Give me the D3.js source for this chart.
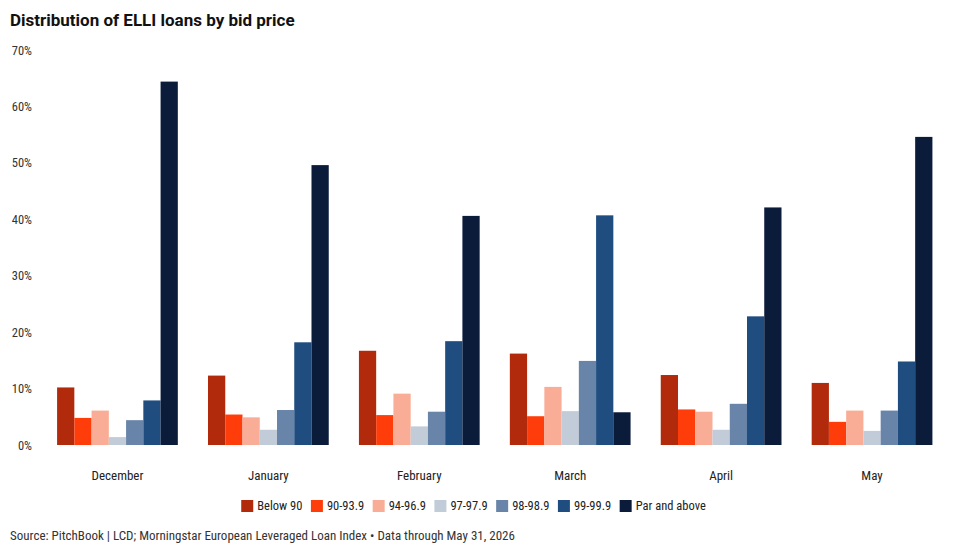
<!DOCTYPE html>
<html>
<head>
<meta charset="utf-8">
<script src="https://cdn.jsdelivr.net/npm/d3@7"></script>
<style>
  html, body { margin: 0; padding: 0; background: #fff; }
  svg { display: block; }
</style>
</head>
<body>
<svg id="chart" width="960" height="552"></svg>
<script>
const months = ["December", "January", "February", "March", "April", "May"];
const seriesNames = ["Below 90", "90-93.9", "94-96.9", "97-97.9", "98-98.9", "99-99.9", "Par and above"];
const seriesColors = ["#b22a0c", "#ff3d0a", "#f9ad96", "#c2ccd8", "#6884a8", "#1f4d80", "#0b1c3b"];
// values in percent, one array per series, in month order
const below90   = [10.2, 12.3, 16.7, 16.2, 12.4, 11.0];
const s90_93    = [4.8, 5.4, 5.3, 5.1, 6.3, 4.1];
const s94_96    = [6.1, 4.9, 9.1, 10.3, 5.9, 6.1];
const s97_97    = [1.4, 2.7, 3.3, 6.0, 2.7, 2.5];
const s98_98    = [4.4, 6.2, 5.9, 14.9, 7.3, 6.1];
const s99_99    = [7.9, 18.2, 18.4, 40.7, 22.8, 14.8];
const parAbove  = [64.4, 49.6, 40.6, 5.8, 42.1, 54.6];
const yTicks = [0, 10, 20, 30, 40, 50, 60, 70];

const seriesValues = [below90, s90_93, s94_96, s97_97, s98_98, s99_99, parAbove];

const svg = d3.select("#chart");
const condensed = "'Roboto Condensed', 'Liberation Sans Narrow', 'DejaVu Sans Condensed', Roboto, sans-serif";

// Title
svg.append("text")
  .attr("x", 10).attr("y", 26)
  .attr("font-family", "Roboto, 'Open Sans', sans-serif")
  .attr("font-weight", 700)
  .attr("font-size", 17)
  .attr("fill", "#111")
  .text("Distribution of ELLI loans by bid price");

const x0 = d3.scaleBand().domain(months).range([42, 947.5]).paddingInner(0.2).paddingOuter(0.1);
const x1 = d3.scaleBand().domain(seriesNames).range([0, x0.bandwidth()]).padding(0);
const y = d3.scaleLinear().domain([0, 70]).range([445, 50]);

// Y axis
const yAxis = svg.append("g")
  .attr("transform", "translate(32,0)")
  .call(d3.axisLeft(y).tickValues(yTicks).tickFormat(d => d + "%").tickSize(0).tickPadding(0));
yAxis.select(".domain").remove();
yAxis.selectAll("text")
  .attr("font-family", condensed)
  .attr("font-size", 12.5)
  .attr("fill", "#333");

// Bars
const groups = svg.append("g").selectAll("g")
  .data(months)
  .join("g")
  .attr("transform", d => `translate(${x0(d)},0)`);

groups.selectAll("rect")
  .data((m, mi) => seriesNames.map((s, si) => ({ s, si, v: seriesValues[si][mi] })))
  .join("rect")
  .attr("x", d => x1(d.s))
  .attr("width", x1.bandwidth())
  .attr("y", d => y(d.v))
  .attr("height", d => y(0) - y(d.v))
  .attr("fill", d => seriesColors[d.si]);

// X axis labels
const xAxis = svg.append("g")
  .attr("transform", "translate(0,445)")
  .call(d3.axisBottom(x0).tickSize(0).tickPadding(26));
xAxis.select(".domain").remove();
xAxis.selectAll("text")
  .attr("font-family", condensed)
  .attr("font-size", 13)
  .attr("fill", "#222");

// Legend
const legend = svg.append("g").attr("transform", "translate(0,506)");
const items = legend.selectAll("g").data(seriesNames).join("g");
items.append("rect")
  .attr("width", 12).attr("height", 12).attr("y", -6)
  .attr("fill", (d, i) => seriesColors[i]);
items.append("text")
  .attr("x", 16).attr("y", 0).attr("dy", "0.35em")
  .attr("font-family", condensed)
  .attr("font-size", 12.5)
  .attr("fill", "#222")
  .text(d => d);
let widths = [];
items.each(function () { widths.push(16 + d3.select(this).select("text").node().getComputedTextLength()); });
const gap = 8.5;
const total = d3.sum(widths) + gap * (widths.length - 1);
let cx = 473.5 - total / 2;
items.attr("transform", (d, i) => { const t = `translate(${cx},0)`; cx += widths[i] + gap; return t; });

// Source
svg.append("text")
  .attr("x", 10).attr("y", 540)
  .attr("font-family", condensed)
  .attr("font-size", 13)
  .attr("fill", "#333")
  .text("Source: PitchBook | LCD; Morningstar European Leveraged Loan Index • Data through May 31, 2026");
</script>
</body>
</html>
